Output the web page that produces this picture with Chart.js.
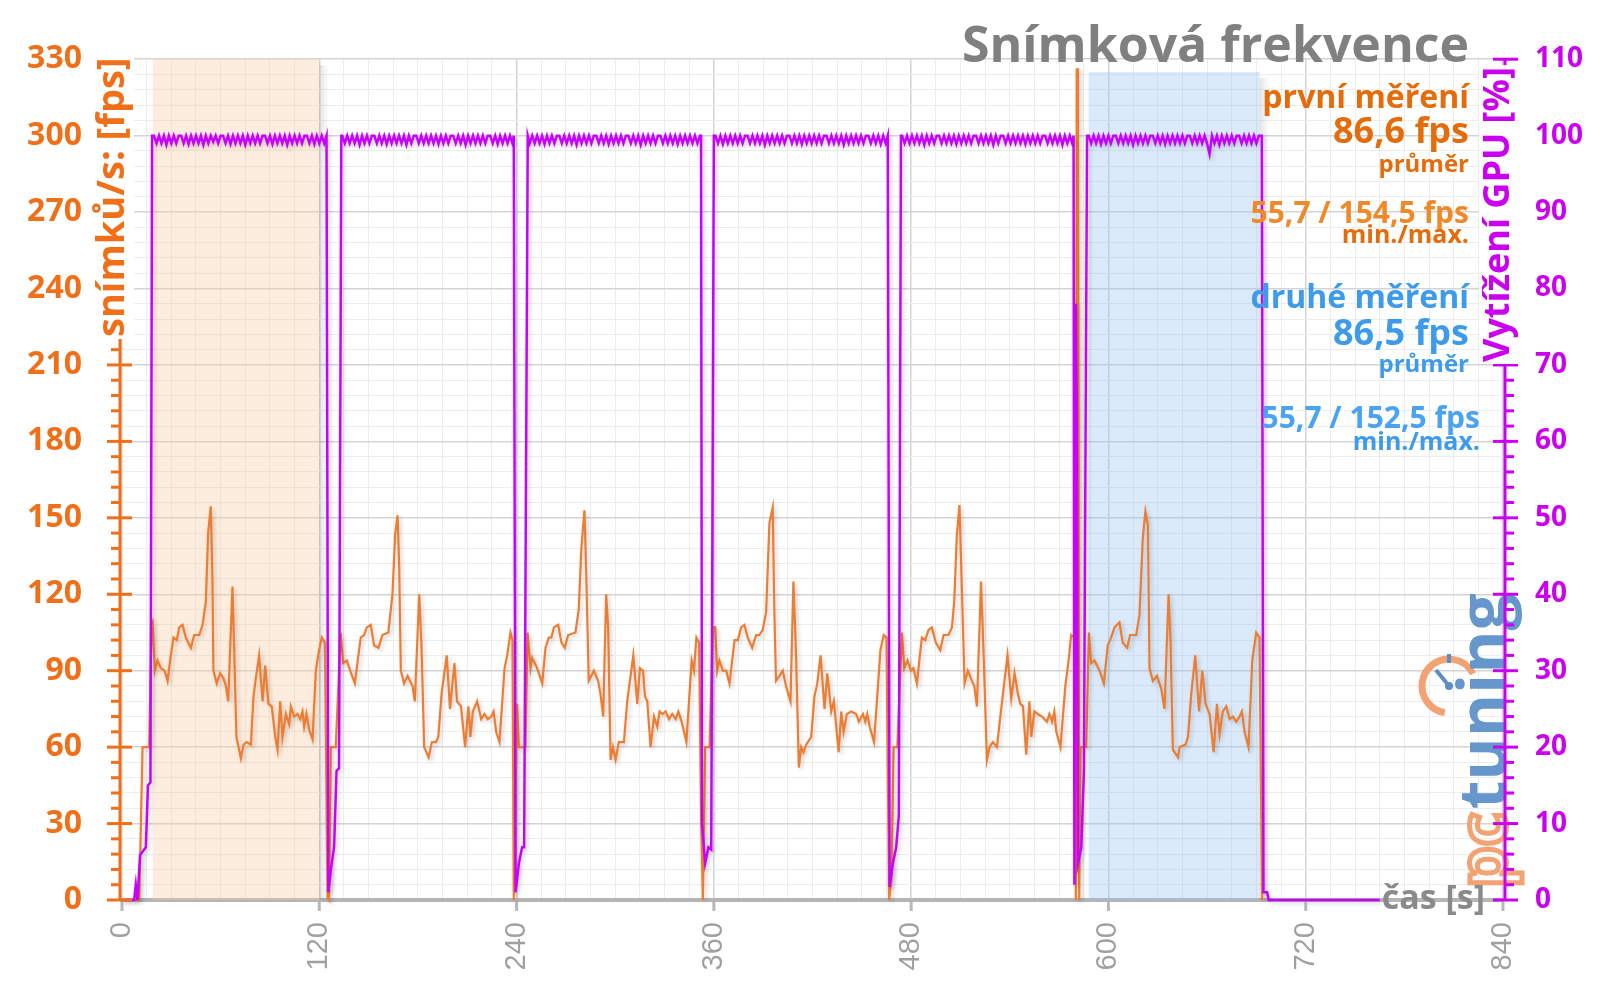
<!DOCTYPE html>
<html>
<head>
<meta charset="utf-8">
<script src="https://cdn.jsdelivr.net/npm/chart.js@4.4.1/dist/chart.umd.min.js"></script>
<style>
  html, body { margin: 0; padding: 0; background: #fff; }
  #wrap { width: 1600px; height: 998px; }
</style>
</head>
<body>
<div id="wrap"><canvas id="chart" width="1600" height="998"></canvas></div>
<script>
// frame rate, [time s, fps] — one array per loop of the benchmark
const fpsCycle1 = [[0,0],[10.5,0],[12.5,60],[16.5,60],[18,108],[18.6,109],[20,90],[21.6,94],[23.6,91],[25.9,90],[27.7,86],[29.7,96],[31.3,103],[33.3,102],[34.8,107],[36.8,108],[38.8,103],[41.9,99],[43.9,104],[47,104],[49,108],[51,117],[52.4,144],[54,154.5],[55,126],[55.6,90],[57.6,85],[59.7,89],[61.7,87],[63.2,84],[64.6,78],[67.2,123],[68.2,99],[69.6,64],[70.9,60],[72.3,55.7],[73.9,61],[75.9,62],[78.4,61],[80,80],[81.4,87],[83.4,96],[85.5,78],[87.1,92],[89.1,77],[91.1,76],[93.2,64],[94.6,59],[96.2,78],[97.6,64],[99.7,73],[101.7,69],[102.7,76],[104.7,72],[106.8,73],[108.4,71],[109.8,74],[110.8,68],[112.2,73],[113.8,67],[115.9,63],[117.9,90],[119.9,98],[121.5,103],[123.4,101],[125,1],[126,0]];
const fpsCycle2 = [[127,60],[130,60],[133,105],[134.5,93],[136.7,94],[138.8,90],[141.6,85],[143.6,95],[145.2,103],[147.2,104],[148.9,107],[151.3,108],[153.3,100],[156,99],[158.4,104],[162,105],[164.5,120],[166.2,144],[167.6,151],[168.6,131],[169.6,90],[171.6,85],[173.7,88],[176.7,84],[178.1,78],[180.8,120],[182.2,99],[183.8,60],[186.5,56],[188.5,62],[191,62],[192.4,64],[194.4,81],[197.5,96],[199.5,75],[202.2,93],[203.8,78],[206.2,76],[208.7,60],[210.7,76],[211.9,64],[213.4,74],[216,78],[218.5,71],[220.5,73],[222.5,71],[224.6,72],[226,74],[227.6,66],[229.6,62],[232.7,91],[234.3,96],[236.3,105],[237.5,102],[238.3,0]];
const fpsCycle3 = [[240.3,77],[241.4,60],[245.4,60],[246.7,105],[248.5,91],[249.5,95],[252.5,91],[255.6,85],[257.6,99],[259.6,103],[261.2,103],[262.7,107],[265.3,108],[267.3,101],[269.3,99],[271.4,104],[275.8,105],[277.8,114],[279.5,139],[281.3,153],[282.5,125],[283.9,86],[287,90],[289.6,86],[291,81],[292.7,72],[294.5,120],[295.7,107],[297.2,55],[298.6,60],[300.2,55],[302.2,62],[305.3,62],[307.3,78],[311,96],[313.4,77],[315,91],[316.9,90],[318.1,80],[319.5,78],[321.5,60],[323.6,72],[325.6,68],[327,74],[328.7,73],[330.7,74],[332.7,71],[334.7,73],[336.8,71],[338.4,74],[340.4,70],[343.3,62],[346.5,94],[347.9,90],[349.4,103],[351,101],[352.3,30],[353.3,0]];
const fpsCycle4 = [[354.7,60],[357.4,60],[359.4,107],[360.8,107],[362,90],[363.4,94],[365.5,90],[367.5,90],[369.5,85],[372.6,102],[374.6,102],[376.6,107],[378.6,108],[380.6,103],[383.3,99],[385.7,104],[387.7,104],[389.7,106],[391.8,113],[393.8,148],[395.8,154],[396.8,113],[397.8,86],[399.9,88],[401.9,90],[403.9,84],[406.6,78],[408.4,125],[410,96],[411.7,52],[413.1,60],[414.5,58],[416.2,61],[419.2,64],[421.2,80],[422.9,85],[424.9,96],[427.3,75],[429,89],[431.4,74],[433,78],[435.9,58],[437.5,74],[438.9,66],[440.9,73],[443.6,74],[446.6,73],[448.2,70],[450.7,73],[452.1,70],[453.3,73],[454.8,68],[457.4,62],[459.5,81],[461.3,98],[463.3,104],[465,103],[466.6,0],[468,8]];
const fpsCycle5 = [[469.3,60],[471.6,60],[474.4,105],[475.8,91],[477.8,94],[479.8,90],[481.4,91],[483.5,85],[486.5,103],[488.5,102],[490.6,106],[492.6,107],[495,101],[497.7,98],[499.7,104],[502.7,104],[504.8,107],[506.2,117],[507.8,143],[509.4,155],[510.9,121],[512.5,85],[514.5,90],[517,86],[518.4,84],[520,76],[522.5,125],[524.1,96],[526.1,55],[527.7,60],[529.7,62],[532.2,60],[534.6,74],[538.6,96],[540.9,79],[542.9,89],[544.9,81],[546.4,77],[548,76],[550,57],[551.9,78],[553.1,64],[554.9,74],[557,73],[559.6,72],[562.6,70],[564.1,73],[565.7,70],[567.1,74],[568.3,66],[570.8,60],[573.8,84],[575.8,94],[577.3,104],[579.3,103],[580.2,0],[580.7,326],[581.5,326],[582.2,0]];
const fpsCycle6 = [[583,60],[586.5,60],[588.1,105],[589.5,93],[591.5,94],[594.6,90],[597.2,85],[599.6,100],[601.6,103],[603.7,107],[606.7,109],[608.7,101],[611.4,99],[613.2,104],[616.9,104],[618.9,112],[620.9,142],[622.5,152.5],[624,147],[625,91],[627,86],[629.5,88],[632.1,83],[634.1,75],[636.6,120],[637.8,101],[639.2,59],[642.3,56],[643.3,60],[646.9,61],[648.4,64],[650.4,81],[652.8,96],[655.1,74],[657.1,90],[659.1,77],[661.5,73],[664,58],[666,77],[667.6,65],[669.6,74],[671.7,76],[673.7,71],[675.7,72],[677.7,70],[679.8,72],[681.2,74],[682.8,66],[685.2,60],[687.5,94],[689.9,105],[691.9,103],[693.5,0]];

// GPU load, [time s, %] around the loading gaps
const gpuRamp0 = [[0,0],[7.4,0],[8.4,2],[9.4,0],[11,5.9],[14.5,6.9],[15.8,15],[17.3,15.4],[18.3,100]];
const gpuRamp1 = [[124.4,100],[125.5,1],[127,3.9],[129,6.9],[130.5,16.9],[132,17.2],[133.4,100]];
const gpuRamp2 = [[238.3,100],[239.4,1],[241.4,4.8],[243.4,6.9],[244.6,6.9],[246.8,100]];
const gpuRamp3 = [[352.2,100],[352.8,10],[354.7,4.8],[356.7,6.9],[358.4,6.6],[360,100]];
const gpuRamp4 = [[465.8,100],[466.9,1.7],[468.9,4.8],[470.9,6.9],[472.5,11],[473.8,100]];
const gpuRamp5 = [[578.8,100],[579.3,2],[580.1,78],[580.7,64],[581.5,4.8],[583.5,6.9],[585.1,16.9],[587,100]];
const gpuRamp6 = [[693.3,100],[694.3,1],[696.5,1],[697.5,0],[765,0]];

// GPU load while running, sampled every 1.5 s from these start times
const gpuWaveStart = [19.5, 134, 248, 361, 474.5, 588];
const gpuWaveStep = 1.5;
const gpuWave1 = [100,99,100,99,100,98.8,100,99,100,99, 100,100,99,100,98.9,100,99,100,99,100, 98.8,100,99,100,99.2,100,99,100,100,99, 100,98.9,100,99,100,99,100,98.8,100,99, 100,99,100,99,100,100,99,100,98.9,100, 99,100,99,100,98.8,100,99,100,99,100, 99,100,100,99,100,98.9,100,99,100,99];
const gpuWave2 = [100,99,100,99,100,99,100,98.8,100,99, 100,99,100,100,99,100,99,100,98.9,100, 99,100,99,100,99,100,98.8,100,99,100, 100,99,100,99,100,99,100,99,100,98.9, 100,99,100,99,100,100,99,100,99,100, 98.8,100,99,100,99,100,99,100,99,100, 100,99,100,98.9,100,99,100,99,100,99];
const gpuWave3 = [99,100,99,100,99,100,98.9,100,99,100, 99,100,100,99,100,99,100,99,100,98.8, 100,99,100,99,100,99,100,100,99,100, 99,100,98.9,100,99,100,99,100,99,100, 100,99,100,99,100,98.8,100,99,100,99, 100,99,100,100,99,100,99,100,99,100, 98.9,100,99,100,99,100,99,100,99,100];
const gpuWave4 = [100,99,100,98.9,100,99,100,99,100,99, 100,99,100,100,99,100,99,100,99,100, 98.8,100,99,100,99,100,99,100,99,100, 100,99,100,99,100,98.9,100,99,100,99, 100,99,100,99,100,100,99,100,99,100, 99,100,98.8,100,99,100,99,100,99,100, 99,100,100,99,100,99,100,98.9,100,99];
const gpuWave5 = [100,99,100,99,100,99,100,99,100,98.8, 100,99,100,99,100,100,99,100,99,100, 99,100,98.9,100,99,100,99,100,99,100, 100,99,100,99,100,99,100,98.8,100,99, 100,100,99,100,99,100,99,100,99,100, 98.9,100,99,100,99,100,99,100,100,99, 100,99,100,99,100,98.8,100,99,100,99];
const gpuWave6 = [100,99,100,99,100,98.9,100,99,100,99, 100,100,99,100,99,100,99,100,98.8,100, 99,100,99,100,99,100,100,99,100,99, 100,98.9,100,99,100,99,100,99,100,99, 100,100,99,100,99,100,99,100,99,97.6, 100,99,100,98.8,100,99,100,99,100,99, 100,100,99,100,99,100,99,100,99,100];

// shaded measurement windows [from s, to s, top fps]
const firstRunBand = [18.6, 120, 330];
const secondRunBand = [588, 692, 325];

// axis setup
const timeMax = 840, timeStep = 15, timeLabelEvery = 120;
const fpsMax = 330, fpsStep = 6, fpsLabelEvery = 30;
const gpuMax = 110, gpuStep = 2, gpuLabelEvery = 10;

const ORANGE = '#f0701a', PURPLE = '#cc00f0', LINE_ORANGE = '#ed7d31', LINE_PURPLE = '#c800ff';
const FONT = '"Open Sans", sans-serif';

const toPoints = arr => arr.map(p => ({ x: p[0], y: p[1] }));
const fpsData = toPoints([].concat(fpsCycle1, fpsCycle2, fpsCycle3, fpsCycle4, fpsCycle5, fpsCycle6));

const waves = [gpuWave1, gpuWave2, gpuWave3, gpuWave4, gpuWave5, gpuWave6];
const ramps = [gpuRamp0, gpuRamp1, gpuRamp2, gpuRamp3, gpuRamp4, gpuRamp5, gpuRamp6];
let gpuPairs = [];
ramps.forEach((ramp, i) => {
  gpuPairs = gpuPairs.concat(ramp);
  if (waves[i]) gpuPairs = gpuPairs.concat(waves[i].map((v, k) => [gpuWaveStart[i] + k * gpuWaveStep, v]));
});
const gpuData = toPoints(gpuPairs);

function line(ctx, x1, y1, x2, y2) {
  ctx.beginPath(); ctx.moveTo(x1, y1); ctx.lineTo(x2, y2); ctx.stroke();
}

function rotatedTitle(ctx, text, x, y, font, color) {
  ctx.save();
  ctx.translate(x, y);
  ctx.rotate(-Math.PI / 2);
  ctx.font = font;
  const w = ctx.measureText(text).width;
  ctx.fillStyle = '#fff';
  ctx.fillRect(-2, -30, w + 4, 40);
  ctx.fillStyle = color;
  ctx.textAlign = 'left';
  ctx.textBaseline = 'alphabetic';
  ctx.fillText(text, 0, 0);
  ctx.restore();
}

const decor = {
  id: 'decor',
  beforeDatasetsDraw(chart) {
    const { ctx, chartArea: a, scales: { x, y } } = chart;
    ctx.save();
    [[firstRunBand, 'rgba(248,203,160,0.35)'], [secondRunBand, 'rgba(150,195,240,0.35)']].forEach(([b, c]) => {
      const x0 = x.getPixelForValue(b[0]), x1 = x.getPixelForValue(b[1]);
      const y0 = y.getPixelForValue(b[2]);
      ctx.fillStyle = c;
      ctx.fillRect(x0, y0, x1 - x0, a.bottom - y0);
      // soft shade on the right edge
      const g = ctx.createLinearGradient(x1, 0, x1 + 10, 0);
      g.addColorStop(0, 'rgba(0,0,0,0.10)');
      g.addColorStop(1, 'rgba(0,0,0,0)');
      ctx.fillStyle = g;
      ctx.fillRect(x1, y0 + 6, 10, a.bottom - y0 - 6);
    });
    ctx.restore();
  },
  beforeDatasetDraw(chart) {
    const ctx = chart.ctx;
    ctx.save();
    ctx.shadowColor = 'rgba(0,0,0,0.2)';
    ctx.shadowBlur = 4; ctx.shadowOffsetX = 2; ctx.shadowOffsetY = 2;
  },
  afterDatasetDraw(chart) {
    chart.ctx.restore();
  },
  afterDatasetsDraw(chart) {
    const { ctx, chartArea: a, scales: { x, y, y2 } } = chart;
    ctx.save();

    // logo
    ctx.save();
    ctx.lineWidth = 7; ctx.strokeStyle = '#f2a273';
    ctx.beginPath(); ctx.arc(1449, 686, 27, 0.55 * Math.PI, 1.85 * Math.PI); ctx.stroke();
    ctx.strokeStyle = '#5a8ec4'; ctx.lineWidth = 4;
    line(ctx, 1449, 686, 1436, 670);
    line(ctx, 1449, 654, 1449, 663);
    ctx.fillStyle = '#5a8ec4';
    ctx.beginPath(); ctx.arc(1449, 686, 4, 0, 2 * Math.PI); ctx.fill();
    ctx.translate(1488, 888); ctx.rotate(-Math.PI / 2);
    ctx.font = `bold 66px ${FONT}`;
    ctx.lineWidth = 5; ctx.strokeStyle = '#f2a273';
    ctx.strokeText('pc', 0, 18);
    const pw = ctx.measureText('pc').width;
    ctx.fillStyle = '#6597cc';
    ctx.fillText('tuning', pw + 3, 18);
    ctx.restore();

    // left axis
    ctx.strokeStyle = ORANGE; ctx.lineWidth = 3;
    const lx = a.left - 2;
    line(ctx, lx, a.top, lx, a.bottom);
    y.ticks.forEach(t => {
      const py = y.getPixelForValue(t.value);
      if (t.value % fpsLabelEvery === 0) line(ctx, lx - 13, py, lx + 12, py);
      else line(ctx, lx - 9, py, lx, py);
    });

    // right axis
    ctx.strokeStyle = PURPLE;
    const rx = a.right + 2;
    line(ctx, rx, a.top, rx, a.bottom);
    y2.ticks.forEach(t => {
      const py = y2.getPixelForValue(t.value);
      if (t.value % gpuLabelEvery === 0) line(ctx, rx - 12, py, rx + 13, py);
      else line(ctx, rx, py, rx + 9, py);
    });

    // time axis tick marks
    ctx.strokeStyle = '#b4b8bf'; ctx.lineWidth = 3;
    x.ticks.forEach(t => {
      if (t.value % timeLabelEvery !== 0) return;
      const px = x.getPixelForValue(t.value);
      line(ctx, px, a.bottom + 2, px, a.bottom + 11);
    });

    // axis titles
    rotatedTitle(ctx, 'snímků/s: [fps]', 124, 337, `bold 38px ${FONT}`, ORANGE);
    rotatedTitle(ctx, 'Vytížení GPU [%]', 1509, 362, `bold 36px ${FONT}`, PURPLE);

    ctx.textAlign = 'right';
    ctx.textBaseline = 'middle';
    ctx.fillStyle = '#8a8a8a';
    ctx.font = `bold 34px ${FONT}`;
    ctx.fillText('čas [s]', 1485, 899);

    // chart title and notes
    ctx.textBaseline = 'alphabetic';
    ctx.fillStyle = '#808080';
    ctx.font = `bold 50px ${FONT}`;
    ctx.fillText('Snímková frekvence', 1469, 62);

    const note = (text, size, color, px, py) => {
      ctx.font = `bold ${size}px ${FONT}`;
      ctx.fillStyle = color;
      ctx.fillText(text, px, py);
    };
    note('první měření', 32, '#e46c0a', 1469, 108);
    note('86,6 fps', 36, '#e46c0a', 1469, 143);
    note('průměr', 24, '#e46c0a', 1469, 172);
    note('55,7 / 154,5 fps', 30, '#ee8a2a', 1469, 223);
    note('min./max.', 25, '#e46c0a', 1469, 243);
    note('druhé měření', 32, '#3d9be9', 1469, 308);
    note('86,5 fps', 36, '#3d9be9', 1469, 345);
    note('průměr', 24, '#3d9be9', 1469, 372);
    note('55,7 / 152,5 fps', 30, '#4aa3f0', 1480, 428);
    note('min./max.', 25, '#3d9be9', 1480, 450);

    ctx.restore();
  }
};

new Chart(document.getElementById('chart'), {
  type: 'line',
  data: {
    datasets: [
      { label: 'GPU', data: gpuData, yAxisID: 'y2', borderColor: LINE_PURPLE, borderWidth: 2.5, pointRadius: 0, tension: 0, order: 0, clip: false },
      { label: 'fps', data: fpsData, yAxisID: 'y', borderColor: LINE_ORANGE, borderWidth: 2.2, pointRadius: 0, tension: 0, order: 1, clip: false }
    ]
  },
  options: {
    responsive: false,
    animation: false,
    devicePixelRatio: 1,
    layout: { padding: { top: 54, left: 0, right: 0, bottom: 0 } },
    plugins: { legend: { display: false }, tooltip: { enabled: false } },
    scales: {
      x: {
        type: 'linear', min: 0, max: timeMax,
        afterFit(s) { s.height = 98; },
        border: { display: true, color: '#b5b5b5', width: 4 },
        grid: {
          drawTicks: false,
          color: c => (c.tick && c.tick.value % timeLabelEvery === 0) ? '#d4d4d4' : '#ededed',
          lineWidth: c => (c.tick && c.tick.value % timeLabelEvery === 0) ? 1.5 : 1
        },
        ticks: {
          stepSize: timeStep, autoSkip: false, minRotation: 90, maxRotation: 90, padding: 22,
          color: '#a0a0a0', font: { family: '"Liberation Sans", Arial, sans-serif', size: 29 },
          callback: v => v % timeLabelEvery === 0 ? String(v) : ''
        }
      },
      y: {
        position: 'left', min: 0, max: fpsMax,
        afterFit(s) { s.width = 122; },
        border: { display: false },
        grid: {
          drawTicks: false,
          color: c => (c.tick && c.tick.value % fpsLabelEvery === 0) ? '#d4d4d4' : '#ededed',
          lineWidth: c => (c.tick && c.tick.value % fpsLabelEvery === 0) ? 1.5 : 1
        },
        ticks: {
          stepSize: fpsStep, autoSkip: false, padding: 40, color: ORANGE,
          font: { family: FONT, size: 32, weight: 'bold' },
          callback: v => v % fpsLabelEvery === 0 ? String(v) : ''
        }
      },
      y2: {
        position: 'right', min: 0, max: gpuMax,
        afterFit(s) { s.width = 97; },
        border: { display: false },
        grid: { drawOnChartArea: false, drawTicks: false },
        ticks: {
          stepSize: gpuStep, autoSkip: false, padding: 32, color: PURPLE,
          font: { family: FONT, size: 28, weight: 'bold' },
          callback: v => v % gpuLabelEvery === 0 ? String(v) : ''
        }
      }
    }
  },
  plugins: [decor]
});
</script>
</body>
</html>
